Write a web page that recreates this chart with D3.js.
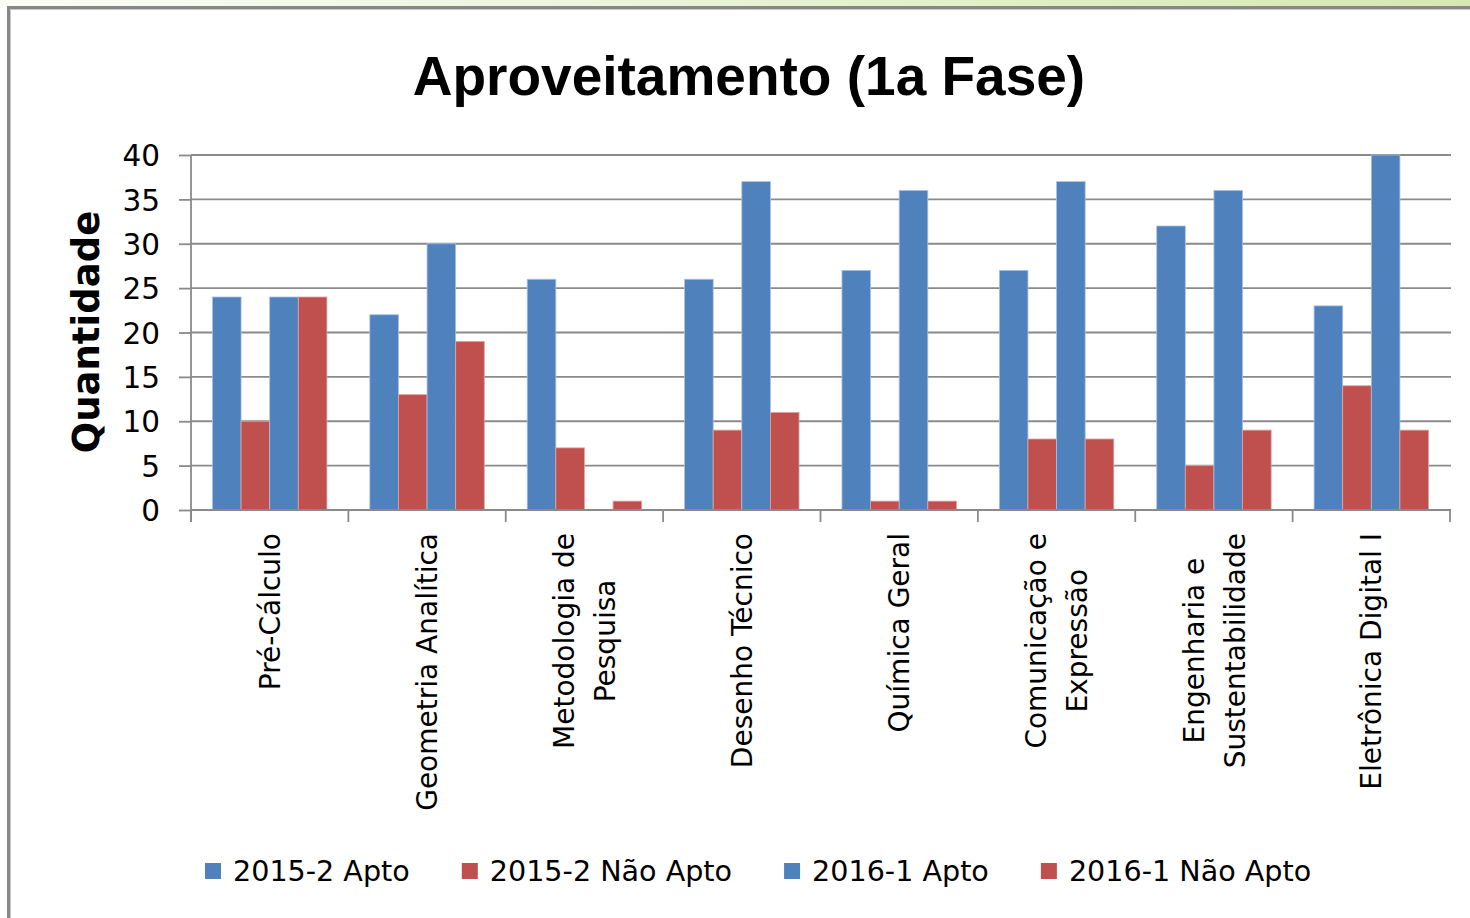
<!DOCTYPE html>
<html>
<head>
<meta charset="utf-8">
<script src="https://cdn.jsdelivr.net/npm/d3@7"></script>
<style>
  html, body { margin: 0; padding: 0; background: #fff; }
  svg { display: block; }
</style>
</head>
<body>
<div id="chart"></div>
<script>
// dados
const categories = [
  ["Pré-Cálculo"],
  ["Geometria Analítica"],
  ["Metodologia de", "Pesquisa"],
  ["Desenho Técnico"],
  ["Química Geral"],
  ["Comunicação e", "Expressão"],
  ["Engenharia e", "Sustentabilidade"],
  ["Eletrônica Digital I"]
];
const seriesNames = ["2015-2 Apto", "2015-2 Não Apto", "2016-1 Apto", "2016-1 Não Apto"];
const apto2015 = [24, 22, 26, 26, 27, 27, 32, 23];
const naoApto2015 = [10, 13, 7, 9, 1, 8, 5, 14];
const apto2016 = [24, 30, 0, 37, 36, 37, 36, 40];
const naoApto2016 = [24, 19, 1, 11, 1, 8, 9, 9];
const yTicks = [0, 5, 10, 15, 20, 25, 30, 35, 40];

const seriesValues = [apto2015, naoApto2015, apto2016, naoApto2016];
const seriesColors = ["#4F81BD", "#C0504D", "#4F81BD", "#C0504D"];

const width = 1470, height = 918;
const plot = { left: 191, right: 1450, top: 155, bottom: 510 };
const gridColor = "#8a8a8a";

const svg = d3.select('#chart').append('svg')
  .attr('width', width)
  .attr('height', height);

// faixa verde do topo
const grad = svg.append('defs').append('linearGradient')
  .attr('id', 'topGrad').attr('x1', 0).attr('x2', 1).attr('y1', 0).attr('y2', 0);
grad.append('stop').attr('offset', '0%').attr('stop-color', '#fcfdf7');
grad.append('stop').attr('offset', '100%').attr('stop-color', '#d5e8b2');
svg.append('rect').attr('x', 0).attr('y', 0).attr('width', width).attr('height', 7)
  .attr('fill', 'url(#topGrad)');

// moldura
svg.append('rect')
  .attr('x', 8.5).attr('y', 7.5)
  .attr('width', width + 20).attr('height', height + 20)
  .attr('fill', '#fff')
  .attr('stroke', '#878787').attr('stroke-width', 3);
svg.append('path')
  .attr('d', `M10.5,${height + 10} V9.5 H${width + 10}`)
  .attr('fill', 'none').attr('stroke', '#c8c8c8').attr('stroke-width', 1);

// título
svg.append('text')
  .attr('x', 749).attr('y', 95)
  .attr('text-anchor', 'middle')
  .style('font-family', '"Liberation Sans", Arial, sans-serif')
  .style('font-weight', 'bold')
  .style('font-size', '55px')
  .text('Aproveitamento (1a Fase)');

const y = d3.scaleLinear().domain([0, 40]).range([plot.bottom, plot.top]);
const x0 = d3.scaleBand().domain(d3.range(categories.length)).range([plot.left, plot.right]).padding(0);
const bw = x0.bandwidth();
const gap = bw * 1.5 / 5.5;
const x1 = d3.scaleBand().domain(d3.range(seriesNames.length)).range([gap / 2, bw - gap / 2]).padding(0);

// grade
svg.append('g')
  .selectAll('line')
  .data(yTicks.filter(t => t > 0))
  .enter().append('line')
  .attr('x1', plot.left).attr('x2', plot.right + 1)
  .attr('y1', d => y(d)).attr('y2', d => y(d))
  .attr('stroke', gridColor).attr('stroke-width', 1.8);

// eixo y
const yAxis = svg.append('g')
  .attr('transform', `translate(${plot.left},0)`)
  .call(d3.axisLeft(y).tickValues(yTicks).tickSize(12).tickPadding(19));
yAxis.select('.domain').remove();
yAxis.selectAll('.tick line').attr('stroke', gridColor).attr('stroke-width', 1.8);
yAxis.selectAll('.tick text')
  .attr('fill', '#000')
  .style('font-family', '"DejaVu Sans", Verdana, sans-serif')
  .style('font-size', '29.5px')
  .attr('dy', '0.36em');
svg.append('line')
  .attr('x1', plot.left).attr('x2', plot.left)
  .attr('y1', plot.top).attr('y2', plot.bottom + 12)
  .attr('stroke', gridColor).attr('stroke-width', 1.8);

// barras
const groups = svg.append('g')
  .selectAll('g')
  .data(categories.map((c, i) => i))
  .enter().append('g')
  .attr('transform', i => `translate(${x0(i)},0)`);

groups.selectAll('rect')
  .data(i => seriesValues.map((vals, s) => ({ s: s, v: vals[i] })))
  .enter().append('rect')
  .filter(d => d.v > 0)
  .attr('x', d => x1(d.s))
  .attr('width', x1.bandwidth())
  .attr('y', d => y(d.v))
  .attr('height', d => y(0) - y(d.v))
  .attr('fill', d => seriesColors[d.s])
  .attr('stroke', d => d.s % 2 === 0 ? '#a9c1e0' : '#e0a3a1')
  .attr('stroke-width', 0.8);

// eixo x
svg.append('line')
  .attr('x1', plot.left).attr('x2', plot.right + 1)
  .attr('y1', plot.bottom).attr('y2', plot.bottom)
  .attr('stroke', gridColor).attr('stroke-width', 1.8);
svg.append('g')
  .selectAll('line')
  .data(d3.range(categories.length + 1))
  .enter().append('line')
  .attr('x1', i => plot.left + i * bw).attr('x2', i => plot.left + i * bw)
  .attr('y1', plot.bottom).attr('y2', plot.bottom + 12)
  .attr('stroke', gridColor).attr('stroke-width', 1.8);

// rótulos das categorias (linhas centradas entre si, a mais longa encosta no eixo)
const lineGap = 41;
const labelTop = 533;
svg.append('g')
  .selectAll('text')
  .data(categories)
  .enter().append('text')
  .attr('text-anchor', 'middle')
  .style('font-family', '"DejaVu Sans", Verdana, sans-serif')
  .style('font-size', '28px')
  .attr('fill', '#000')
  .each(function(lines, i) {
    const t = d3.select(this);
    lines.forEach((ln, k) => {
      t.append('tspan')
        .attr('x', 0)
        .attr('y', (k - (lines.length - 1) / 2) * lineGap)
        .attr('dy', '0.36em')
        .text(ln);
    });
    let maxLen = 0;
    t.selectAll('tspan').each(function() {
      maxLen = Math.max(maxLen, this.getComputedTextLength());
    });
    t.attr('transform', `translate(${x0(i) + bw / 2},${labelTop + maxLen / 2}) rotate(-90)`);
  });

// título do eixo y
svg.append('text')
  .attr('transform', 'translate(99,332) rotate(-90)')
  .attr('text-anchor', 'middle')
  .style('font-family', '"DejaVu Sans", Verdana, sans-serif')
  .style('font-weight', 'bold')
  .style('font-size', '37px')
  .text('Quantidade');

// legenda
const legend = svg.append('g').attr('transform', 'translate(205,871)');
let lx = 0;
seriesNames.forEach((name, s) => {
  const item = legend.append('g').attr('transform', `translate(${lx},0)`);
  item.append('rect')
    .attr('x', 0).attr('y', -8).attr('width', 16).attr('height', 16)
    .attr('fill', seriesColors[s]);
  const txt = item.append('text')
    .attr('x', 28).attr('y', 0).attr('dy', '0.36em')
    .style('font-family', '"DejaVu Sans", Verdana, sans-serif')
    .style('font-size', '28.6px')
    .text(name);
  lx += 28 + txt.node().getComputedTextLength() + 52;
});
</script>
</body>
</html>
